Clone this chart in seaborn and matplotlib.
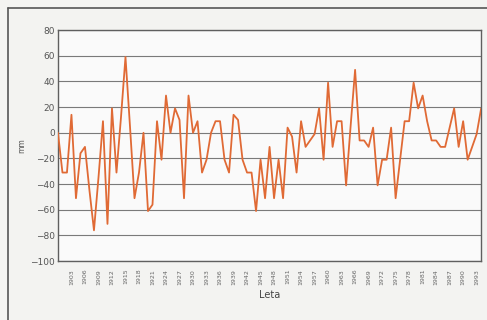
import numpy as np
import pandas as pd
import matplotlib.pyplot as plt
import seaborn as sns

# data: yearly deviation in mm, 1900-1994
years = list(range(1900, 1995))
values = [0, -31, -31, 14, -51, -16, -11, -45, -76, -35,
          9, -71, 19, -31, 12, 59, 5, -51, -31, 0,
          -61, -56, 9, -21, 29, 0, 19, 10, -51, 29,
          0, 9, -31, -21, 0, 9, 9, -21, -31, 14,
          10, -21, -31, -31, -61, -21, -51, -11, -51, -21,
          -51, 4, -3, -31, 9, -11, -6, -1, 19, -21,
          39, -11, 9, 9, -41, 5, 49, -6, -6, -11,
          4, -41, -21, -21, 4, -51, -21, 9, 9, 39,
          19, 29, 9, -6, -6, -11, -11, 4, 19, -11,
          9, -21, -11, -1, 19]
label_years = list(range(1903, 1995, 3))
y_ticks = list(range(-100, 81, 20))

df = pd.DataFrame({"Leta": years, "mm": values})

sns.set_style("white")

fig = plt.figure(figsize=(4.87, 3.2), dpi=100, facecolor="#f3f3f1")
ax = fig.add_axes([0.119, 0.184, 0.869, 0.722])
ax.set_facecolor("#fafafa")

# outer frame of the scanned chart
fig.add_artist(plt.Line2D([0.016, 0.016], [0.0, 0.975], color="#555555", lw=1.2))
fig.add_artist(plt.Line2D([0.016, 1.0], [0.975, 0.975], color="#555555", lw=1.2))

for y in y_ticks:
    ax.axhline(y, color="#7a7a7a", lw=0.8, zorder=1)

sns.lineplot(data=df, x="Leta", y="mm", ax=ax, color="#e06a35", lw=1.3, zorder=3)

ax.set_xlim(1900, 1994)
ax.set_ylim(-100, 80)
ax.set_yticks(y_ticks)
ax.set_xticks(label_years)
ax.set_xticks(years, minor=True)
ax.set_xticklabels([str(y) for y in label_years], rotation=90, fontsize=4.5, color="#666666")
ax.tick_params(axis="y", labelsize=6.5, colors="#555555", length=0, pad=2)
ax.tick_params(axis="x", which="both", direction="out", length=2.5, width=0.6,
               colors="#777777", pad=3)
ax.tick_params(axis="x", which="major", labelcolor="#666666")

for side in ["left", "bottom", "top", "right"]:
    ax.spines[side].set_color("#5f5f5f")
    ax.spines[side].set_linewidth(1.0)

ax.set_xlabel("Leta", fontsize=7, color="#444444", labelpad=4)
ax.set_ylabel("mm", fontsize=5.5, color="#555555", labelpad=3)

fig.savefig("out.png", dpi=100, facecolor=fig.get_facecolor())
